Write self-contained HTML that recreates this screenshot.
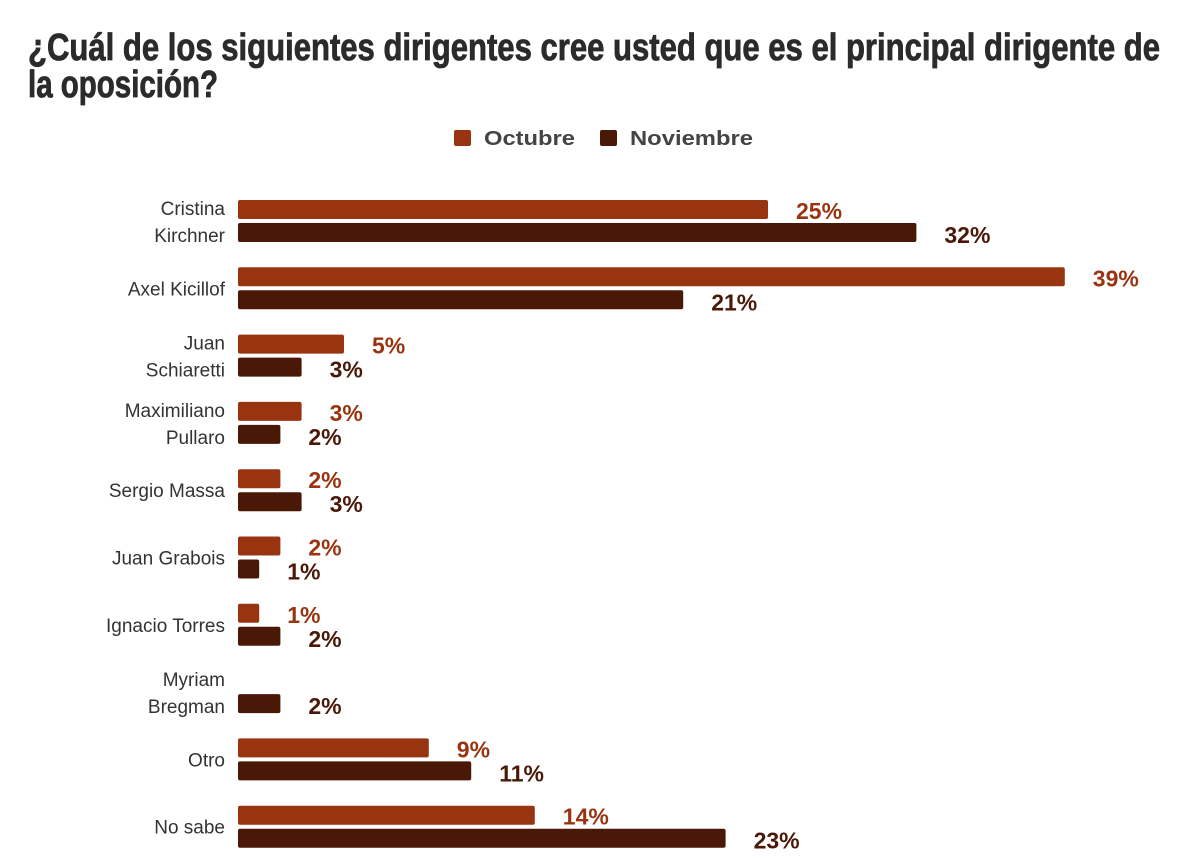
<!DOCTYPE html>
<html><head><meta charset="utf-8"><style>
html,body{margin:0;padding:0;background:#fff;}
svg{display:block;}
</style></head><body>
<svg width="1200" height="861" xmlns="http://www.w3.org/2000/svg" font-family="Liberation Sans, Arial, sans-serif">
<text x="28" y="60" font-size="38" font-weight="bold" fill="#2b2b2b" stroke="#2b2b2b" stroke-width="0.8" textLength="1132" lengthAdjust="spacingAndGlyphs">¿Cuál de los siguientes dirigentes cree usted que es el principal dirigente de</text>
<text x="28" y="97" font-size="38" font-weight="bold" fill="#2b2b2b" stroke="#2b2b2b" stroke-width="0.8" textLength="190" lengthAdjust="spacingAndGlyphs">la oposición?</text>
<rect x="454" y="130" width="17" height="16" rx="2" fill="#983510"/>
<text x="484" y="145" font-size="20" font-weight="bold" fill="#444" textLength="91" lengthAdjust="spacingAndGlyphs">Octubre</text>
<rect x="600" y="130" width="17" height="16" rx="2" fill="#4a1807"/>
<text x="630" y="145" font-size="20" font-weight="bold" fill="#444" textLength="123" lengthAdjust="spacingAndGlyphs">Noviembre</text>
<g id="chart"></g>
</svg>
<script>
var names=[["Cristina","Kirchner"],["Axel Kicillof"],["Juan","Schiaretti"],["Maximiliano","Pullaro"],["Sergio Massa"],["Juan Grabois"],["Ignacio Torres"],["Myriam","Bregman"],["Otro"],["No sabe"]];
var oct=[25,39,5,3,2,2,1,null,9,14], nov=[32,21,3,2,3,1,2,2,11,23];
var s="",k=21.2,x0=238;
for(var i=0;i<10;i++){
 var y=200+67.3*i;
 if(oct[i]!==null){var w=oct[i]*k;s+='<rect x="'+x0+'" y="'+y+'" width="'+w+'" height="19" rx="2" fill="#983510"/>';
  s+='<text x="'+(x0+w+28)+'" y="'+(y+19)+'" font-size="23" font-weight="bold" fill="#983510">'+oct[i]+'%</text>';}
 var w2=nov[i]*k;s+='<rect x="'+x0+'" y="'+(y+23)+'" width="'+w2+'" height="19" rx="2" fill="#4a1807"/>';
 s+='<text x="'+(x0+w2+28)+'" y="'+(y+43)+'" font-size="23" font-weight="bold" fill="#4a1807">'+nov[i]+'%</text>';
 var n=names[i];
 if(n.length==2){s+='<text x="225" y="'+(y+15)+'" font-size="19" fill="#333" text-anchor="end">'+n[0]+'</text><text x="225" y="'+(y+42)+'" font-size="19" fill="#333" text-anchor="end">'+n[1]+'</text>';}
 else s+='<text x="225" y="'+(y+28)+'" font-size="19" fill="#333" text-anchor="end">'+n[0]+'</text>';
}
document.getElementById("chart").innerHTML=s;
</script>
</body></html>
